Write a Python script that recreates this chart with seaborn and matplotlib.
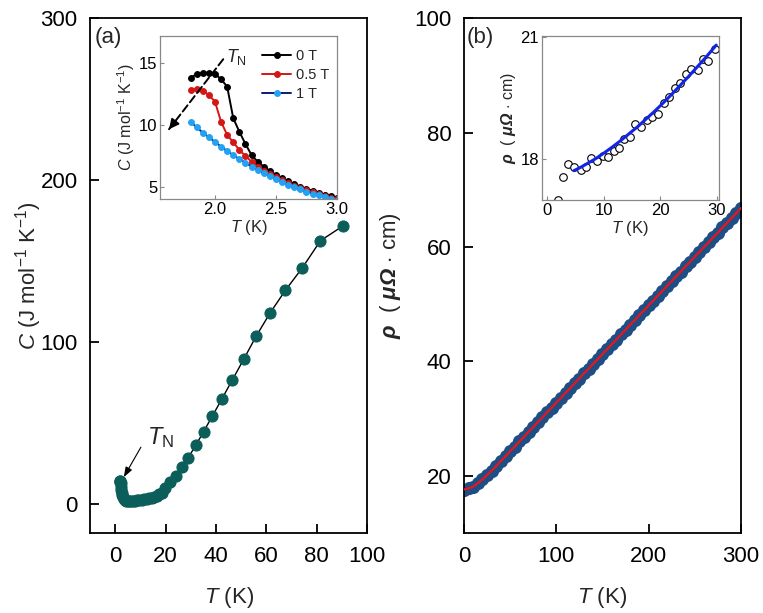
import matplotlib
matplotlib.use('Agg')
import matplotlib.pyplot as plt
import seaborn as sns
import pandas as pd

# ---------------- data ----------------
# Panel (a): specific heat vs temperature
Ta = [1.8, 1.9, 2.0, 2.1, 2.2, 2.3, 2.5, 2.7, 3.0, 3.4, 3.8, 4.3, 4.9, 5.5, 6.2, 7.0,
      7.8, 8.7, 9.6, 10.5, 11.5, 12.5, 13.5, 14.5, 15.5, 16.5, 17.5, 18.5, 19.9, 21.9,
      24.1, 26.4, 29.0, 32.0, 35.1, 38.5, 42.3, 46.5, 51.1, 56.1, 61.6, 67.6, 74.2, 81.5, 90.4]
Ca = [13.8, 14.1, 14.1, 13.1, 10.5, 8.5, 7.0, 5.6, 4.0, 3.0, 2.4, 2.0, 1.8, 1.7, 1.7, 1.8,
      1.9, 2.1, 2.3, 2.6, 2.9, 3.2, 3.5, 3.9, 4.4, 5.0, 5.8, 7.0, 9.6, 13.8,
      17.5, 22.7, 28.5, 36.2, 44.6, 54.0, 64.6, 76.5, 89.5, 103.9, 118.1, 131.9, 145.5, 162.5, 171.6]

# Inset (a): low-temperature specific heat in fields
Tin = [1.80, 1.85, 1.90, 1.95, 2.00, 2.05, 2.10, 2.15, 2.20, 2.25, 2.30, 2.35, 2.40,
       2.45, 2.50, 2.55, 2.60, 2.65, 2.70, 2.75, 2.80, 2.85, 2.90, 2.95, 3.00]
C_0T = [13.78, 14.13, 14.21, 14.24, 14.13, 13.70, 13.10, 10.54, 9.45, 8.45, 7.56, 7.02, 6.61,
        6.29, 5.94, 5.67, 5.45, 5.21, 5.00, 4.83, 4.67, 4.51, 4.35, 4.24, 4.05]
C_05T = [12.84, 12.89, 12.78, 12.43, 11.89, 10.26, 9.19, 8.59, 7.97, 7.48, 7.02, 6.62, 6.28,
         6.00, 5.74, 5.50, 5.27, 5.06, 4.87, 4.70, 4.53, 4.38, 4.24, 4.10, 3.97]
C_1T = [10.26, 9.81, 9.37, 9.00, 8.62, 8.24, 7.89, 7.56, 7.24, 6.94, 6.62, 6.35, 6.08,
        5.84, 5.60, 5.38, 5.17, 4.97, 4.78, 4.60, 4.44, 4.29, 4.14, 4.00, 3.87]
field_labels = ['0 T', '0.5 T', '1 T']

# Panel (b): resistivity vs temperature
Tb = [0, 5, 10, 15, 20, 25, 30, 35, 40, 45, 50, 55, 60, 65, 70, 75, 80, 85, 90, 95,
      100, 105, 110, 115, 120, 125, 130, 135, 140, 145, 150, 155, 160, 165, 170, 175,
      180, 185, 190, 195, 200, 205, 210, 215, 220, 225, 230, 235, 240, 245, 250, 255,
      260, 265, 270, 275, 280, 285, 290, 295, 300]
rhob = [17.6, 17.8, 18.1, 18.7, 19.4, 20.1, 20.9, 21.7, 22.6, 23.4, 24.3, 25.1, 26.0, 26.8,
        27.7, 28.5, 29.4, 30.2, 31.1, 31.9, 32.8, 33.6, 34.5, 35.3, 36.2, 37.0, 37.9, 38.7,
        39.6, 40.4, 41.3, 42.1, 43.0, 43.8, 44.7, 45.5, 46.4, 47.2, 48.1, 48.9, 49.8, 50.6,
        51.5, 52.3, 53.2, 54.0, 54.9, 55.7, 56.6, 57.4, 58.3, 59.1, 60.0, 60.8, 61.7, 62.5,
        63.4, 64.2, 65.1, 65.9, 66.8]

# Inset (b): low-temperature resistivity and fit
Tib = [1.8, 2.7, 3.7, 4.8, 5.9, 6.8, 7.8, 8.8, 9.9, 10.7, 11.8, 12.7, 13.6, 14.7, 15.6,
       16.6, 17.6, 18.6, 19.6, 20.6, 21.5, 22.6, 23.5, 24.6, 25.5, 26.6, 27.5, 28.5, 29.7]
rhoib = [17.0, 17.56, 17.89, 17.82, 17.74, 17.80, 18.02, 17.96, 18.09, 18.05, 18.21, 18.27,
         18.50, 18.54, 18.86, 18.78, 18.96, 19.04, 19.12, 19.37, 19.52, 19.74, 19.86, 20.09,
         20.22, 20.20, 20.45, 20.41, 20.71]
Tfit = [4.7, 6.0, 7.0, 8.5, 10.0, 11.5, 13.0, 14.5, 16.0, 17.5, 19.0, 20.5, 22.0, 23.5,
        25.0, 26.5, 28.0, 29.9]
rhofit = [17.72, 17.81, 17.89, 18.01, 18.15, 18.30, 18.46, 18.63, 18.80, 18.99, 19.18,
          19.38, 19.59, 19.81, 20.03, 20.26, 20.49, 20.80]

# ---------------- style ----------------
sns.set_theme(style='ticks')
plt.rcParams['font.family'] = ['Liberation Sans', 'DejaVu Sans']
plt.rcParams.update({
    'mathtext.fontset': 'custom',
    'mathtext.rm': 'Liberation Sans',
    'mathtext.it': 'Liberation Sans:italic',
    'mathtext.bf': 'Liberation Sans:italic:bold',
    'axes.linewidth': 1.3,
    'axes.edgecolor': 'black',
})

TEAL = '#0c5e5a'
fig = plt.figure(figsize=(7.63, 6.13), dpi=100)

axA = fig.add_axes([0.118, 0.1305, 0.363, 0.840])
axB = fig.add_axes([0.6081, 0.1305, 0.363, 0.840])
insA = fig.add_axes([0.2097, 0.6754, 0.232, 0.2659])
insB = fig.add_axes([0.710, 0.6737, 0.2324, 0.268])

# ---------------- panel (a) ----------------
dfa = pd.DataFrame({'T': Ta, 'C': Ca})
sns.lineplot(data=dfa, x='T', y='C', ax=axA, color='black', lw=1.0, marker='o',
             markersize=8, markerfacecolor=TEAL, markeredgecolor=TEAL, zorder=3)
axA.set_xlim(-10, 100)
axA.set_ylim(-18, 300)
axA.set_xticks([0, 20, 40, 60, 80, 100])
axA.set_yticks([0, 100, 200, 300])
axA.tick_params(direction='in', length=6.5, width=1.3, labelsize=16, pad=9, colors='black')
axA.set_xlabel('$T$ (K)', fontsize=16, labelpad=13)
axA.set_ylabel('$C$ (J mol$^{-1}$ K$^{-1}$)', fontsize=16, labelpad=-3)
axA.text(0.018, 0.982, '(a)', transform=axA.transAxes, ha='left', va='top', fontsize=16)
axA.text(17.8, 41, '$T_{\\mathrm{N}}$', fontsize=17, ha='center', va='center')
axA.annotate('', xy=(3.4, 16.5), xytext=(10.2, 35),
             arrowprops=dict(arrowstyle='-|>,head_length=0.5,head_width=0.18',
                             color='black', lw=0.8, shrinkA=0, shrinkB=0))

# ---------------- inset (a) ----------------
dfi = pd.DataFrame({'T': Tin, '0 T': C_0T, '0.5 T': C_05T, '1 T': C_1T})
styles = [('0 T', 'black', 'black'), ('0.5 T', '#d41616', '#d41616'), ('1 T', '#0b1a78', '#22a2f2')]
for key, lc, mc in styles:
    sns.lineplot(data=dfi, x='T', y=key, ax=insA, color=lc, lw=1.4, marker='o',
                 markersize=4.2, markerfacecolor=mc, markeredgecolor=mc, label=key)
insA.set_xlim(1.55, 3.0)
insA.set_ylim(4.0, 17.2)
insA.set_xticks([2.0, 2.5, 3.0])
insA.set_yticks([5, 10, 15])
insA.tick_params(direction='in', length=3, width=0.8, labelsize=12, pad=2,
                 color='#888888', labelcolor='black')
for s in insA.spines.values():
    s.set_color('#888888')
    s.set_linewidth(0.9)
insA.set_xlabel('$T$ (K)', fontsize=12, labelpad=1)
insA.set_ylabel('$C$ (J mol$^{-1}$ K$^{-1}$)', fontsize=11.5, labelpad=1)
leg = insA.legend(loc='upper right', frameon=False, fontsize=10.5, handlelength=2.0,
                  handletextpad=0.3, labelspacing=0.35, borderaxespad=0.15,
                  bbox_to_anchor=(1.0, 0.97))
insA.text(2.18, 15.5, '$T_{\\mathrm{N}}$', fontsize=13, ha='center', va='center')
insA.annotate('', xy=(1.624, 9.65), xytext=(2.068, 15.32),
              arrowprops=dict(arrowstyle='-', ls=(0, (4, 2)), lw=1.4, color='black',
                              shrinkA=0, shrinkB=0))
insA.annotate('', xy=(1.624, 9.65), xytext=(1.68, 10.35),
              arrowprops=dict(arrowstyle='-|>,head_length=0.5,head_width=0.25',
                              lw=1.2, color='black', shrinkA=0, shrinkB=0))

# ---------------- panel (b) ----------------
dfb = pd.DataFrame({'T': Tb, 'rho': rhob})
sns.scatterplot(data=dfb, x='T', y='rho', ax=axB, color='#1f4e85', s=90,
                edgecolor='#1f4e85', linewidth=0, zorder=2, clip_on=True)
sns.lineplot(data=dfb, x='T', y='rho', ax=axB, color='#e8161c', lw=1.6, zorder=3)
axB.set_xlim(0, 300)
axB.set_ylim(10, 100)
axB.set_xticks([0, 100, 200, 300])
axB.set_yticks([20, 40, 60, 80, 100])
axB.tick_params(direction='in', length=6.5, width=1.3, labelsize=16, pad=9, colors='black')
axB.set_xlabel('$T$ (K)', fontsize=16, labelpad=13)
axB.set_ylabel('$\\mathbf{\\rho}$  ( $\\mathbf{\\mu\\Omega}$ $\\cdot$ cm)', fontsize=16, labelpad=8)
axB.text(0.01, 0.982, '(b)', transform=axB.transAxes, ha='left', va='top', fontsize=16)

# ---------------- inset (b) ----------------
dfib = pd.DataFrame({'T': Tib, 'rho': rhoib})
dff = pd.DataFrame({'T': Tfit, 'rho': rhofit})
sns.scatterplot(data=dfib, x='T', y='rho', ax=insB, facecolor='white', edgecolor='black',
                linewidth=0.8, s=30, zorder=2)
sns.lineplot(data=dff, x='T', y='rho', ax=insB, color='#1224e6', lw=2.2, zorder=3)
insB.set_xlim(-1, 30.4)
insB.set_ylim(17.0, 21.03)
insB.set_xticks([0, 10, 20, 30])
insB.set_yticks([18, 21])
insB.tick_params(direction='in', length=3, width=0.8, labelsize=12, pad=2,
                 color='#888888', labelcolor='black')
for s in insB.spines.values():
    s.set_color('#888888')
    s.set_linewidth(0.9)
insB.set_xlabel('$T$ (K)', fontsize=12, labelpad=1)
insB.set_ylabel('$\\mathbf{\\rho}$  ( $\\mathbf{\\mu\\Omega}$ $\\cdot$ cm)', fontsize=11.5, labelpad=2)

fig.savefig('out.png', dpi=100)
